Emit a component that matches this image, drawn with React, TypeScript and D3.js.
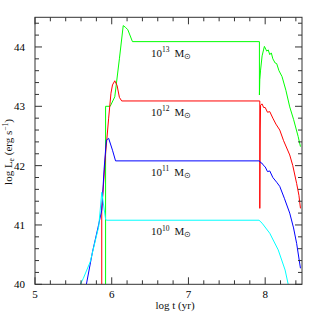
import React from 'react';
import * as d3 from 'd3';

// log t (yr), log L
const mass13: [number, number][] = [
    [5.92, 40], [5.92, 43.0], [5.98, 43.0], [6.04, 43.16], [6.10, 43.8], [6.15, 44.36], [6.18, 44.33],
    [6.21, 44.29], [6.27, 44.09], [7.925, 44.09], [7.925, 43.19], [7.93, 43.45], [7.94, 43.61],
    [7.96, 43.85], [7.99, 44.01], [8.02, 43.93], [8.04, 43.95], [8.06, 43.87], [8.08, 43.9],
    [8.10, 43.8], [8.13, 43.73], [8.15, 43.72], [8.18, 43.6], [8.22, 43.5], [8.27, 43.27],
    [8.32, 42.99], [8.37, 42.78], [8.43, 42.49], [8.46, 42.32],
];
const mass12: [number, number][] = [
    [5.87, 40], [5.87, 41.25], [5.92, 42.2], [5.96, 42.8], [5.99, 43.22], [6.01, 43.36], [6.04, 43.43],
    [6.07, 43.35], [6.10, 43.15], [6.13, 43.09], [7.93, 43.09], [7.93, 41.28], [7.935, 42.6],
    [7.94, 43.02], [7.96, 43.04], [7.98, 42.98], [8.0, 42.98], [8.03, 42.9], [8.06, 42.91],
    [8.1, 42.8], [8.14, 42.7], [8.19, 42.6], [8.24, 42.42], [8.32, 42.18], [8.36, 42.0],
    [8.41, 41.7], [8.44, 41.5], [8.46, 41.28],
];
const mass11: [number, number][] = [
    [5.67, 40], [5.75, 40.55], [5.82, 40.95], [5.87, 41.25], [5.90, 41.93], [5.93, 42.43], [5.96, 42.46],
    [6.01, 42.26], [6.05, 42.08], [7.925, 42.08], [7.94, 42.05], [7.96, 42.04], [7.98, 42.0],
    [8.0, 41.98], [8.03, 41.9], [8.06, 41.91], [8.10, 41.8], [8.15, 41.72], [8.19, 41.65],
    [8.25, 41.45], [8.32, 41.2], [8.37, 40.95], [8.41, 40.69], [8.46, 40.27],
];
const mass10: [number, number][] = [
    [5.59, 40], [5.63, 40.1], [5.72, 40.38], [5.83, 40.97], [5.85, 41.25], [5.87, 41.55], [5.92, 41.1],
    [5.93, 41.08], [7.92, 41.08], [7.96, 41.03], [8.06, 40.86], [8.17, 40.58], [8.26, 40.24], [8.30, 40.0],
];

const series = [
    {data: mass13, color: '#00ff00', exp: '13', level: 44.09},
    {data: mass12, color: '#ff0000', exp: '12', level: 43.09},
    {data: mass11, color: '#0000ff', exp: '11', level: 42.08},
    {data: mass10, color: '#00ffff', exp: '10', level: 41.08},
];

const xTicks = [5, 6, 7, 8];
const yTicks = [40, 41, 42, 43, 44];

const App: React.FC = () => {
    const x = d3.scaleLinear().domain([5, 8.48]).range([35, 302]);
    const y = d3.scaleLinear().domain([40, 44.5]).range([284.3, 17.3]);
    const line = d3.line<[number, number]>().x(d => x(d[0])).y(d => y(d[1]));

    const xMinor = d3.range(26).map(i => 5 + i * 0.2).filter(v => v <= 8.48 && Math.abs(v - Math.round(v)) > 0.01);
    const yMinor = d3.range(23).map(i => 40 + i * 0.2).filter(v => v <= 44.5 && Math.abs(v - Math.round(v)) > 0.01);
    const [x0, x1] = x.range();
    const [y0, y1] = y.range(); // y0 bottom, y1 top
    const ff = 'Liberation Serif, serif';

    const xT = [...xTicks.map(v => ({v, len: 7})), ...xMinor.map(v => ({v, len: 4}))];
    const yT = [...yTicks.map(v => ({v, len: 7})), ...yMinor.map(v => ({v, len: 4}))];

    return (
        <svg width={319} height={319} style={{position: 'absolute', left: 0, top: 0}}>
            <defs>
                <clipPath id="plot">
                    <rect x={x0} y={y1} width={x1 - x0} height={y0 - y1}/>
                </clipPath>
            </defs>
            <g clipPath="url(#plot)">
                {series.map(s => (
                    <path key={s.exp} d={line(s.data)!} stroke={s.color} strokeWidth={1} fill="none"/>
                ))}
            </g>
            <rect x={x0} y={y1} width={x1 - x0} height={y0 - y1} fill="none" stroke="#333"/>
            {xT.map((t, i) => (
                <g key={'xt' + i}>
                    <line x1={x(t.v)} x2={x(t.v)} y1={y0} y2={y0 - t.len} stroke="#333"/>
                    <line x1={x(t.v)} x2={x(t.v)} y1={y1} y2={y1 + t.len} stroke="#333"/>
                </g>
            ))}
            {yT.map((t, i) => (
                <g key={'yt' + i}>
                    <line x1={x0} x2={x0 + t.len} y1={y(t.v)} y2={y(t.v)} stroke="#333"/>
                    <line x1={x1} x2={x1 - t.len} y1={y(t.v)} y2={y(t.v)} stroke="#333"/>
                </g>
            ))}
            {xTicks.map(v => (
                <text key={'xl' + v} x={x(v)} y={y0 + 14} textAnchor="middle" fontSize={11}
                      fontFamily={ff}>{v}</text>
            ))}
            {yTicks.map(v => (
                <text key={'yl' + v} x={x0 - 10} y={y(v) + 4} textAnchor="end" fontSize={11}
                      fontFamily={ff}>{v}</text>
            ))}
            {series.map(s => (
                <text key={s.exp} x={151} y={y(s.level) + 15} fontSize={11} fontFamily={ff} fill="#111">
                    10<tspan fontSize={7.5} dy={-4.5}>{s.exp}</tspan>
                    <tspan dy={4.5} dx={5}>M</tspan>
                    <tspan fontSize={7.5} dy={2}>⊙</tspan>
                </text>
            ))}
            <text x={175} y={309} textAnchor="middle" fontSize={11} fontFamily={ff} fill="#111">log  t  (yr)</text>
            <text transform="translate(12, 152) rotate(-90)" textAnchor="middle" fontSize={11} fontFamily={ff}
                  fill="#111">
                log  L<tspan fontSize={7.5} dy={2}>e</tspan><tspan dy={-2}>  (erg  s</tspan>
                <tspan fontSize={7.5} dy={-4}>−1</tspan><tspan dy={4}>)</tspan>
            </text>
        </svg>
    );
};

export default App;
